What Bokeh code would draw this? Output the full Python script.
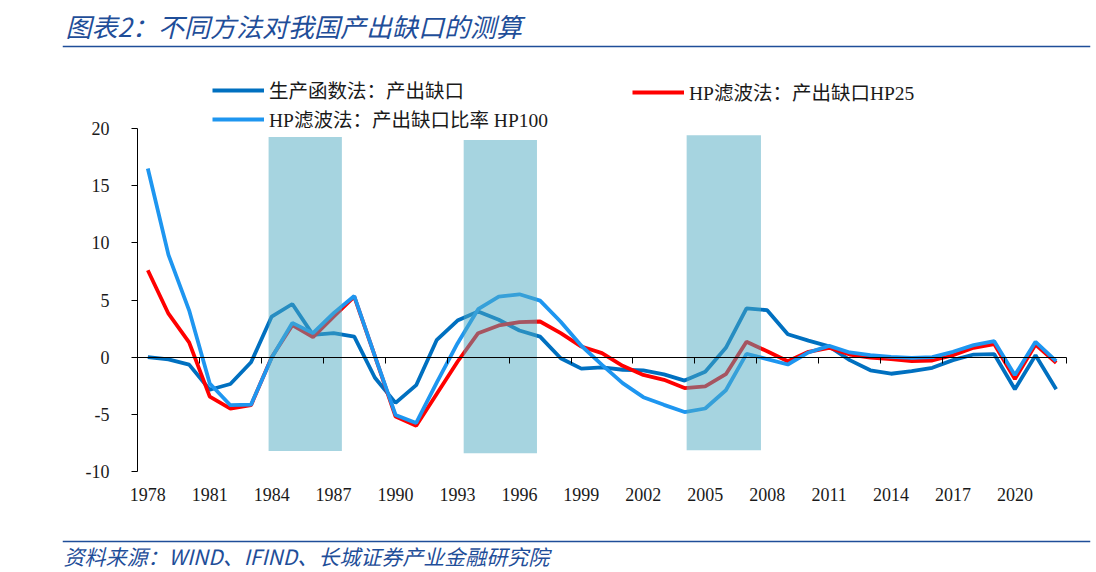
from bokeh.plotting import figure
from bokeh.models import Range1d, FixedTicker, Span, Label, Legend, LegendItem, LinearAxis
from bokeh.layouts import column
from bokeh.embed import file_html
from bokeh.resources import INLINE

# ---------------- data ----------------
years = list(range(1978, 2023))

prod_gap = [0.0, -0.2, -0.65, -2.85, -2.35, -0.45, 3.55, 4.65, 1.95, 2.1,
            1.8, -1.8, -4.0, -2.45, 1.52, 3.2, 4.0, 3.27, 2.33, 1.8,
            -0.1, -1.0, -0.9, -1.1, -1.15, -1.5, -2.05, -1.28, 0.82, 4.26,
            4.11, 2.0, 1.45, 0.95, -0.26, -1.15, -1.45, -1.22, -0.93, -0.26,
            0.23, 0.26, -2.8, 0.17, -2.8]

hp25_gap = [7.6, 3.8, 1.3, -3.45, -4.5, -4.2, 0.0, 2.8, 1.75, 3.55,
            5.3, 0.1, -5.2, -6.0, -3.2, -0.4, 2.1, 2.77, 3.06, 3.12,
            2.1, 0.93, 0.35, -0.76, -1.55, -1.98, -2.7, -2.55, -1.49, 1.34,
            0.52, -0.35, 0.47, 0.82, 0.23, -0.03, -0.17, -0.35, -0.29, 0.17,
            0.82, 1.14, -1.92, 1.11, -0.5]

hp100_gap = [16.5, 8.95, 4.1, -2.3, -4.2, -4.15, -0.05, 3.0, 2.1, 3.85,
             5.35, 0.1, -5.05, -5.75, -2.2, 1.2, 4.2, 5.3, 5.5, 4.95,
             3.1, 1.0, -0.67, -2.27, -3.5, -4.17, -4.8, -4.49, -2.89, 0.29,
             -0.17, -0.64, 0.41, 0.99, 0.41, 0.17, 0.03, -0.06, 0.0, 0.47,
             1.05, 1.4, -1.57, 1.34, -0.35]

shade_start = [1983.85, 1993.3, 2004.1]
shade_end = [1987.4, 1996.85, 2007.7]
shade_top = [19.25, 19.0, 19.4]
shade_bottom = [-8.2, -8.4, -8.15]

series_names = ["生产函数法：产出缺口", "HP滤波法：产出缺口HP25", "HP滤波法：产出缺口比率 HP100"]
x_tick_years = years[::3]
x_tick_labels = [str(y) for y in x_tick_years]
y_ticks = [-10, -5, 0, 5, 10, 15, 20]
y_tick_labels = ["-10", "-5", "0", "5", "10", "15", "20"]

title_text = "图表2：不同方法对我国产出缺口的测算"
source_text = "资料来源：WIND、IFIND、长城证券产业金融研究院"

# ---------------- style / layout constants ----------------
W = 1096
BLUE_DARK = "#0070C0"
BLUE_LIGHT = "#1E96F0"
RED = "#FF0000"
NAVY = "#1F4E99"
SERIF = "Liberation Serif"
MIX = "Liberation Serif, Noto Sans CJK SC"
CJK = "Noto Sans CJK SC"
TXT = "#1A1A1A"

FRAME_L, FRAME_R = 62, 1090          # frame edges shared by all strips (page px)
AXIS_L, AXIS_R = 137, 1066           # where the category axis starts / ends
cat_lo = years[0] - 0.5
cat_hi = years[-1] + 0.5
px_per_year = (AXIS_R - AXIS_L) / (cat_hi - cat_lo)
x_lo = cat_lo - (AXIS_L - FRAME_L) / px_per_year
x_hi = cat_hi + (FRAME_R - AXIS_R) / px_per_year

# vertical: value 20 at y=128, value -10 at y=471; frame from 71 to 483
Y_TOP_PX, Y_BOT_PX = 128, 471
FT, FB = 71, 483
px_per_unit = (Y_BOT_PX - Y_TOP_PX) / (y_ticks[-1] - y_ticks[0])
y_hi = y_ticks[-1] + (Y_TOP_PX - FT) / px_per_unit
y_lo = y_ticks[0] - (FB - Y_BOT_PX) / px_per_unit

common = dict(toolbar_location=None, output_backend="svg",
              min_border_left=FRAME_L, min_border_right=W - FRAME_R,
              outline_line_color=None)

# ---------------- title strip ----------------
TH = 50
t = figure(width=W, height=TH, x_range=Range1d(0, FRAME_R - FRAME_L), y_range=Range1d(TH, 0),
           x_axis_type=None, y_axis_type=None, min_border_top=0, min_border_bottom=0, **common)
t.add_layout(Span(location=46, dimension="width", line_color=NAVY, line_width=1.6))
t.add_layout(Label(x=3, y=25, text=title_text, text_baseline="middle",
                   text_font=CJK, text_font_size="26px", text_font_style="italic",
                   text_color=NAVY))

# ---------------- main chart ----------------
MH = 485
p = figure(width=W, height=MH, x_range=Range1d(x_lo, x_hi), y_range=Range1d(y_lo, y_hi),
           min_border_top=FT - TH, min_border_bottom=TH + MH - FB, **common)
p.xgrid.visible = False
p.ygrid.visible = False

r1 = p.line(years, prod_gap, line_color=BLUE_DARK, line_width=3.8)
r2 = p.line(years, hp25_gap, line_color=RED, line_width=3.8)
r3 = p.line(years, hp100_gap, line_color=BLUE_LIGHT, line_width=3.8)

p.quad(left=shade_start, right=shade_end, top=shade_top, bottom=shade_bottom,
       fill_color="#4DA9C1", fill_alpha=0.5, line_color=None)

# y axis at the left edge of the categories, limited to -10..20
p.yaxis.fixed_location = cat_lo
p.yaxis.bounds = (y_ticks[0], y_ticks[-1])
p.yaxis.ticker = FixedTicker(ticks=y_ticks)
p.yaxis.major_label_overrides = dict(zip(y_ticks, y_tick_labels))
p.yaxis.minor_tick_line_color = None
p.yaxis.major_tick_out = 6
p.yaxis.major_tick_in = 0
p.yaxis.axis_line_color = "black"
p.yaxis.major_tick_line_color = "black"
p.yaxis.major_label_standoff = 22
p.yaxis.major_label_text_font = SERIF
p.yaxis.major_label_text_font_size = "18px"
p.yaxis.major_label_text_color = TXT

# x axis: labels only, at the bottom
p.xaxis.ticker = FixedTicker(ticks=x_tick_years)
p.xaxis.major_label_overrides = dict(zip(x_tick_years, x_tick_labels))
p.xaxis.axis_line_color = None
p.xaxis.major_tick_line_color = None
p.xaxis.minor_tick_line_color = None
p.xaxis.major_tick_out = 0
p.xaxis.major_tick_in = 0
p.xaxis.major_label_standoff = 4
p.xaxis.major_label_text_font = SERIF
p.xaxis.major_label_text_font_size = "18px"
p.xaxis.major_label_text_color = TXT

# category axis crossing at zero, ticks on category boundaries
tick_pos = [y + 0.5 for y in years if (y - 1980) % 3 == 0]
zero_axis = LinearAxis(fixed_location=0, bounds=(cat_lo, cat_hi),
                       ticker=FixedTicker(ticks=tick_pos),
                       major_label_overrides={tp: "" for tp in tick_pos},
                       major_tick_out=6, major_tick_in=0, minor_tick_line_color=None,
                       axis_line_color="black", major_tick_line_color="black",
                       major_label_standoff=0, major_label_text_font_size="1px")
p.add_layout(zero_axis, "below")

def make_legend(items, loc):
    return Legend(items=items, location=loc, orientation="vertical",
                  padding=0, margin=0, spacing=0, border_line_color=None,
                  background_fill_alpha=0, glyph_width=52, glyph_height=26,
                  label_height=26, label_standoff=5,
                  label_text_font=MIX, label_text_font_size="19.5px",
                  label_text_color=TXT)

legA = make_legend([LegendItem(label=series_names[0], renderers=[r1]),
                    LegendItem(label=series_names[2], renderers=[r3])],
                   (212 - FRAME_L, FB - 133))
legB = make_legend([LegendItem(label=series_names[1], renderers=[r2])],
                   (632 - FRAME_L, FB - 106))
p.add_layout(legA)
p.add_layout(legB)

# ---------------- source strip ----------------
SH = 572 - TH - MH
s = figure(width=W, height=SH, x_range=Range1d(0, FRAME_R - FRAME_L), y_range=Range1d(SH, 0),
           x_axis_type=None, y_axis_type=None, min_border_top=0, min_border_bottom=0, **common)
s.add_layout(Span(location=6, dimension="width", line_color=NAVY, line_width=1.6))
s.add_layout(Label(x=1, y=20, text=source_text, text_baseline="middle",
                   text_font=CJK, text_font_size="21px", text_font_style="italic",
                   text_color=NAVY))

layout = column(t, p, s, spacing=0)
open("out.html", "w").write(file_html(layout, INLINE))
